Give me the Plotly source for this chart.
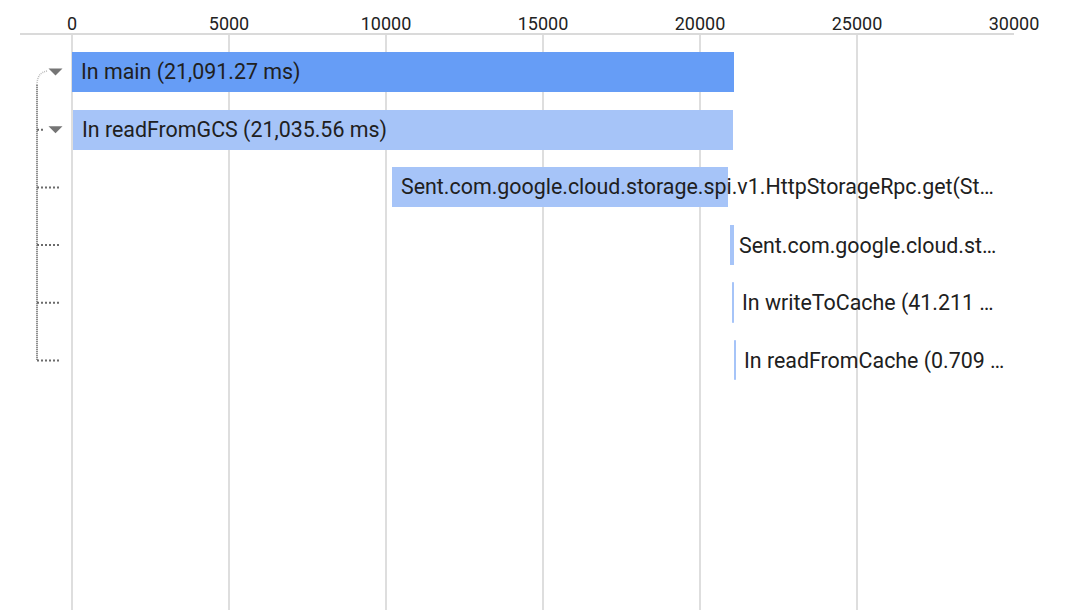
import plotly.graph_objects as go

# ---- data ----
labels = [
    "In main (21,091.27 ms)",
    "In readFromGCS (21,035.56 ms)",
    "Sent.com.google.cloud.storage.spi.v1.HttpStorageRpc.get(St…",
    "Sent.com.google.cloud.st…",
    "In writeToCache (41.211 …",
    "In readFromCache (0.709 …",
]
starts = [0, 20, 10190, 20955, 21045, 21130]          # ms
durations = [21091.27, 21035.56, 10700, 125, 41.211, 0.709]  # ms
bar_colors = ["#669df6", "#a6c4f8", "#a6c4f8", "#a6c4f8", "#a6c4f8", "#a6c4f8"]
tick_vals = [0, 5000, 10000, 15000, 20000, 25000, 30000]
expanded = [True, True, False, False, False, False]

rows = list(range(len(labels)))

fig = go.Figure()
fig.add_trace(go.Bar(
    orientation="h",
    y=rows,
    x=durations,
    base=starts,
    width=0.693,
    marker=dict(color=bar_colors,
                line=dict(color=bar_colors, width=[0, 0, 0, 0, 1, 1])),
    hoverinfo="skip",
    showlegend=False,
))

# labels
for r, (lab, s) in enumerate(zip(labels, starts)):
    fig.add_annotation(x=s, y=r, text=lab, xanchor="left", yanchor="middle",
                       xshift=7, showarrow=False,
                       font=dict(family="Roboto", size=21.4, color="#202020"))

# tree decoration (pixel offsets relative to x=0)
tree_col = "#6b6b6b"
n = len(rows)
fig.add_shape(type="line", xref="x", yref="y", xsizemode="pixel", xanchor=0,
              x0=-35, x1=-35, y0=0.22, y1=n - 1,
              line=dict(color=tree_col, width=2, dash="1px,1px"))
fig.add_shape(type="path", xref="x", yref="y", xsizemode="pixel", xanchor=0,
              ysizemode="pixel", yanchor=0,
              path="M -35,-13 Q -35,0 -24,1",
              line=dict(color="#bdbdbd", width=1.5, dash="1px,1px"))
for r in rows[1:]:
    x1 = -27 if expanded[r] else -11
    fig.add_shape(type="line", xref="x", yref="y", xsizemode="pixel", xanchor=0,
                  ysizemode="scaled", x0=-35, x1=x1, y0=r, y1=r,
                  line=dict(color=tree_col, width=2, dash="2px,2px"))
for r in rows:
    if expanded[r]:
        fig.add_shape(type="path", xref="x", yref="y", xsizemode="pixel", xanchor=0,
                      ysizemode="pixel", yanchor=r,
                      path="M -23.5,3.5 L -9.5,3.5 L -16.5,-3.5 Z",
                      fillcolor="#757575", line=dict(width=0))

fig.update_layout(
    width=1079, height=610,
    margin=dict(l=20, r=65, t=35, b=0),
    paper_bgcolor="white", plot_bgcolor="white",
    bargap=0,
    xaxis=dict(side="top", range=[-1656, 30000], tickvals=tick_vals,
               ticktext=[str(v) for v in tick_vals],
               showgrid=True, gridcolor="#dedede", gridwidth=2,
               zeroline=False, showline=True, linecolor="#dadada", linewidth=2,
               ticks="", ticklabelstandoff=-4,
               tickfont=dict(family="Roboto", size=18, color="#222222"),
               fixedrange=True),
    yaxis=dict(range=[9.324, -0.641], showticklabels=False, showgrid=False,
               zeroline=False, showline=False, fixedrange=True),
    font=dict(family="Roboto"),
)

fig.write_html("out.html")
